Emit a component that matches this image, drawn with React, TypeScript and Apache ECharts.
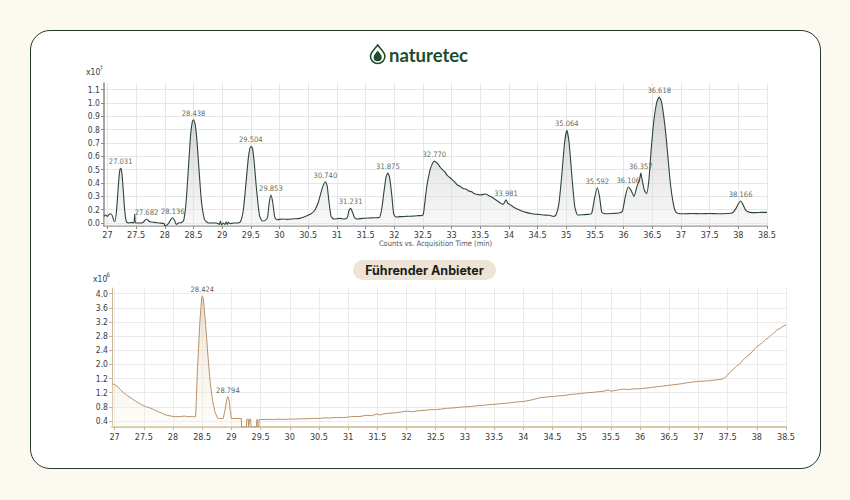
import React, { useEffect, useRef } from "react";
import * as echarts from "echarts";

// ---------- data ----------
const xTicks = [27, 27.5, 28, 28.5, 29, 29.5, 30, 30.5, 31, 31.5, 32, 32.5, 33, 33.5, 34, 34.5, 35, 35.5, 36, 36.5, 37, 37.5, 38, 38.5];

const topTickValuesY = [0.1, 0.2, 0.3, 0.4, 0.5, 0.6, 0.7, 0.8, 0.9, 1.0, 1.1];
const topTickLabelsY = ["0.0", "0.2", "0.3", "0.4", "0.5", "0.6", "0.7", "0.8", "0.9", "1.0", "1.1"];

const bottomTickValuesY = [0.4, 0.8, 1.2, 1.6, 2.0, 2.4, 2.8, 3.2, 3.6, 4.0];
const bottomTickLabelsY = ["0.4", "0.8", "1.2", "1.2", "2.0", "2.4", "2.8", "3.2", "3.6", "4.0"];

// naturetec chromatogram (x10^7 counts)
const topSignal: [number, number][] = [
  [26.94, 0.15], [26.97, 0.16], [27.0, 0.15], [27.03, 0.165], [27.06, 0.17], [27.09, 0.15], [27.11, 0.12], [27.13, 0.11],
  [27.16, 0.2], [27.19, 0.38], [27.21, 0.48], [27.23, 0.51], [27.25, 0.48], [27.27, 0.38], [27.3, 0.2], [27.33, 0.11],
  [27.37, 0.1], [27.42, 0.105], [27.46, 0.1], [27.475, 0.165], [27.49, 0.1], [27.55, 0.1], [27.62, 0.105], [27.68, 0.13],
  [27.74, 0.11], [27.82, 0.105], [27.92, 0.1], [27.99, 0.095], [28.0, 0.08], [28.04, 0.085], [28.07, 0.1], [28.11, 0.13],
  [28.14, 0.14], [28.17, 0.12], [28.2, 0.09], [28.24, 0.1], [28.29, 0.105],
  [28.33, 0.12], [28.37, 0.25], [28.41, 0.5], [28.45, 0.76], [28.48, 0.86], [28.5, 0.875], [28.53, 0.84], [28.56, 0.72],
  [28.6, 0.48], [28.64, 0.26], [28.69, 0.13], [28.74, 0.105],
  [28.82, 0.1], [28.9, 0.1], [28.95, 0.09], [28.97, 0.115], [28.99, 0.085], [29.02, 0.1], [29.05, 0.09], [29.07, 0.11],
  [29.09, 0.09], [29.11, 0.105], [29.14, 0.095], [29.2, 0.1], [29.27, 0.1],
  [29.32, 0.11], [29.37, 0.2], [29.42, 0.42], [29.46, 0.6], [29.5, 0.675], [29.53, 0.66], [29.56, 0.55], [29.6, 0.35],
  [29.65, 0.16], [29.7, 0.115], [29.75, 0.12],
  [29.79, 0.14], [29.82, 0.25], [29.85, 0.31], [29.88, 0.26], [29.92, 0.14], [29.96, 0.125],
  [30.05, 0.13], [30.15, 0.128], [30.25, 0.132], [30.35, 0.135], [30.45, 0.15], [30.55, 0.17], [30.62, 0.2], [30.68, 0.26],
  [30.73, 0.34], [30.77, 0.39], [30.8, 0.41], [30.83, 0.38], [30.86, 0.27], [30.9, 0.15], [30.95, 0.13],
  [31.05, 0.135], [31.13, 0.13], [31.18, 0.14], [31.21, 0.19], [31.24, 0.21], [31.27, 0.185], [31.31, 0.14], [31.36, 0.13],
  [31.45, 0.135], [31.55, 0.138], [31.65, 0.14], [31.74, 0.142],
  [31.78, 0.2], [31.82, 0.33], [31.86, 0.45], [31.89, 0.475], [31.92, 0.44], [31.96, 0.3], [31.99, 0.17], [32.03, 0.145],
  [32.1, 0.148], [32.2, 0.15], [32.3, 0.152], [32.4, 0.155], [32.5, 0.16],
  [32.53, 0.24], [32.57, 0.38], [32.62, 0.49], [32.66, 0.54], [32.7, 0.565], [32.73, 0.555], [32.76, 0.545], [32.8, 0.52],
  [32.84, 0.5], [32.88, 0.485], [32.92, 0.46], [32.96, 0.445], [33.0, 0.43], [33.05, 0.41], [33.1, 0.385], [33.15, 0.375],
  [33.2, 0.36], [33.25, 0.355], [33.3, 0.34], [33.35, 0.335], [33.4, 0.32], [33.45, 0.315], [33.5, 0.31], [33.55, 0.315],
  [33.6, 0.318], [33.65, 0.305], [33.7, 0.295], [33.75, 0.28], [33.8, 0.265], [33.85, 0.25], [33.9, 0.24], [33.95, 0.275],
  [33.98, 0.25], [34.03, 0.235], [34.1, 0.215], [34.2, 0.195], [34.3, 0.18], [34.4, 0.17], [34.5, 0.165], [34.6, 0.16],
  [34.7, 0.158], [34.78, 0.15],
  [34.82, 0.16], [34.87, 0.24], [34.92, 0.45], [34.97, 0.7], [35.01, 0.795], [35.05, 0.7], [35.1, 0.44], [35.15, 0.22], [35.2, 0.16],
  [35.28, 0.162], [35.36, 0.165], [35.44, 0.17], [35.49, 0.28], [35.54, 0.365], [35.58, 0.3], [35.62, 0.18], [35.68, 0.17],
  [35.8, 0.172], [35.92, 0.175], [35.98, 0.19],
  [36.03, 0.3], [36.08, 0.37], [36.13, 0.345], [36.18, 0.3], [36.23, 0.37], [36.28, 0.43], [36.3, 0.475], [36.32, 0.43],
  [36.36, 0.35], [36.4, 0.32], [36.44, 0.42], [36.48, 0.65], [36.53, 0.88], [36.58, 1.01], [36.62, 1.045], [36.66, 1.01],
  [36.7, 0.9], [36.74, 0.75], [36.78, 0.56], [36.82, 0.38], [36.86, 0.26], [36.9, 0.19], [36.95, 0.172],
  [37.05, 0.17], [37.2, 0.172], [37.35, 0.17], [37.5, 0.172], [37.65, 0.17], [37.8, 0.172], [37.9, 0.178],
  [37.96, 0.21], [38.0, 0.245], [38.04, 0.265], [38.08, 0.24], [38.13, 0.195], [38.2, 0.18], [38.3, 0.178], [38.4, 0.18], [38.5, 0.18],
];

const topPeakNames = ["27.031", "27.682", "28.136", "28.438", "29.504", "29.853", "30.740", "31.231", "31.875", "32.770", "33.981", "35.064", "35.592", "36.106", "36.357", "36.618", "38.166"];
const topPeakTimes = [27.23, 27.68, 28.14, 28.5, 29.5, 29.85, 30.8, 31.24, 31.89, 32.7, 33.95, 35.01, 35.54, 36.08, 36.3, 36.62, 38.04];
const topPeakValues = [0.51, 0.13, 0.14, 0.875, 0.675, 0.31, 0.41, 0.21, 0.475, 0.565, 0.275, 0.795, 0.365, 0.37, 0.475, 1.045, 0.265];

// Führender Anbieter chromatogram (x10^6 counts)
const bottomSignal: [number, number][] = [
  [26.955, 1.45], [27.0, 1.43], [27.05, 1.37], [27.1, 1.29], [27.15, 1.2], [27.2, 1.14], [27.25, 1.08], [27.3, 1.03],
  [27.35, 0.97], [27.4, 0.92], [27.45, 0.87], [27.5, 0.83], [27.55, 0.8], [27.6, 0.77], [27.65, 0.74], [27.7, 0.7],
  [27.75, 0.66], [27.8, 0.63], [27.85, 0.59], [27.9, 0.56], [27.95, 0.545], [28.0, 0.53], [28.05, 0.52], [28.1, 0.525],
  [28.15, 0.53], [28.2, 0.54], [28.25, 0.52], [28.3, 0.53], [28.35, 0.52], [28.38, 0.52],
  [28.39, 0.6], [28.42, 1.9], [28.46, 3.2], [28.49, 3.85], [28.5, 3.94], [28.52, 3.85], [28.56, 3.1], [28.6, 2.2],
  [28.64, 1.45], [28.68, 0.95], [28.72, 0.65], [28.76, 0.49],
  [28.8, 0.47], [28.86, 0.47], [28.89, 0.7], [28.92, 1.0], [28.94, 1.09], [28.96, 1.0], [28.98, 0.7], [29.0, 0.47],
  [29.1, 0.47], [29.17, 0.47],
  [29.175, 0.23], [29.26, 0.23], [29.265, 0.45], [29.29, 0.45], [29.295, 0.23], [29.305, 0.23], [29.31, 0.45], [29.33, 0.45],
  [29.335, 0.23], [29.43, 0.23], [29.435, 0.44], [29.45, 0.44], [29.455, 0.23], [29.47, 0.23], [29.475, 0.44],
  [29.6, 0.445], [29.7, 0.44], [29.8, 0.45], [29.9, 0.445], [30.0, 0.455], [30.1, 0.45], [30.2, 0.465], [30.3, 0.46],
  [30.4, 0.475], [30.5, 0.47], [30.6, 0.49], [30.7, 0.485], [30.8, 0.5], [30.9, 0.495], [31.0, 0.51], [31.1, 0.53],
  [31.2, 0.525], [31.3, 0.56], [31.4, 0.55], [31.5, 0.6], [31.55, 0.57], [31.6, 0.6], [31.7, 0.62], [31.8, 0.63],
  [31.9, 0.65], [32.0, 0.68], [32.1, 0.66], [32.2, 0.69], [32.3, 0.7], [32.4, 0.72], [32.5, 0.72], [32.6, 0.74],
  [32.7, 0.76], [32.8, 0.77], [32.9, 0.79], [33.0, 0.8], [33.1, 0.81], [33.2, 0.83], [33.3, 0.84], [33.4, 0.86],
  [33.5, 0.87], [33.6, 0.89], [33.7, 0.9], [33.8, 0.92], [33.9, 0.94], [34.0, 0.95], [34.1, 0.98], [34.2, 1.02],
  [34.3, 1.06], [34.4, 1.08], [34.5, 1.09], [34.6, 1.11], [34.7, 1.12], [34.8, 1.15], [34.9, 1.16], [35.0, 1.18],
  [35.1, 1.2], [35.2, 1.21], [35.3, 1.23], [35.4, 1.25], [35.45, 1.28], [35.5, 1.24], [35.6, 1.27], [35.7, 1.3],
  [35.8, 1.29], [35.9, 1.31], [36.0, 1.31], [36.1, 1.33], [36.2, 1.35], [36.3, 1.37], [36.4, 1.39], [36.5, 1.41],
  [36.6, 1.43], [36.7, 1.45], [36.8, 1.48], [36.9, 1.5], [37.0, 1.52], [37.1, 1.53], [37.2, 1.54], [37.3, 1.56],
  [37.4, 1.58], [37.45, 1.62], [37.5, 1.7], [37.55, 1.8], [37.6, 1.86], [37.65, 1.95], [37.7, 2.0], [37.75, 2.1],
  [37.8, 2.18], [37.85, 2.25], [37.9, 2.32], [37.95, 2.42], [38.0, 2.5], [38.05, 2.56], [38.1, 2.62], [38.15, 2.7],
  [38.2, 2.75], [38.25, 2.84], [38.3, 2.9], [38.35, 2.98], [38.4, 3.02], [38.45, 3.08], [38.5, 3.12],
];

const bottomPeakNames = ["28.424", "28.794"];
const bottomPeakTimes = [28.5, 28.94];
const bottomPeakValues = [3.94, 1.09];

const FILLED_UNTIL = 29.17;

// ---------- chart ----------
const FONT = "'Liberation Sans Narrow', 'DejaVu Sans Condensed', Roboto, sans-serif";

const labelFor = (values: number[], labels: string[]) => (v: number) => {
  const i = values.findIndex((t) => Math.abs(t - v) < 1e-6);
  return i >= 0 ? labels[i] : "";
};

export default function App() {
  const ref = useRef<HTMLDivElement>(null);

  useEffect(() => {
    if (!ref.current) return;
    echarts.graphic.registerShape(
      "dropOuter",
      echarts.graphic.extendPath("M8 0 C11 4 16 8 16 12.5 A8 8 0 0 1 0 12.5 C0 8 5 4 8 0 Z", {})
    );
    echarts.graphic.registerShape(
      "dropInner",
      echarts.graphic.extendPath("M8 6.5 C10 9 12.5 11 12.5 13.5 A4.5 4.5 0 0 1 3.5 13.5 C3.5 11 6 9 8 6.5 Z", {})
    );
    const chart = echarts.init(ref.current, undefined, { renderer: "svg" });

    const axisLabelStyle = { color: "#3a3a3a", fontSize: 8.5, fontFamily: FONT };

    const option: any = {
      animation: false,
      textStyle: { fontFamily: FONT },
      grid: [
        { left: 104, top: 83, width: 663, height: 143 },
        { left: 112, top: 288, width: 674, height: 139 },
      ],
      xAxis: [
        {
          gridIndex: 0,
          type: "value",
          min: 26.94,
          max: 38.5,
          name: "Counts vs. Acquisition Time (min)",
          nameLocation: "middle",
          nameGap: 13,
          nameTextStyle: { color: "#555", fontSize: 7.5, fontFamily: FONT },
          axisLine: { show: true, lineStyle: { color: "#9a9a9a", width: 1.5 } },
          axisTick: { show: true, length: 3, customValues: xTicks, lineStyle: { color: "#888" } },
          axisLabel: { ...axisLabelStyle, fontSize: 9, margin: 4, customValues: xTicks, formatter: (v: number) => String(v) },
          splitLine: { show: true, lineStyle: { color: "#e6e6e6", width: 1 } },
        },
        {
          gridIndex: 1,
          type: "value",
          min: 26.955,
          max: 38.5,
          axisLine: { show: true, lineStyle: { color: "#d8c8a6", width: 2 } },
          axisTick: { show: true, length: 3, customValues: xTicks, lineStyle: { color: "#c9b48e" } },
          axisLabel: { ...axisLabelStyle, fontSize: 9, margin: 5, customValues: xTicks, formatter: (v: number) => String(v) },
          splitLine: { show: true, lineStyle: { color: "#ebebeb", width: 1 } },
        },
      ],
      yAxis: [
        {
          gridIndex: 0,
          type: "value",
          min: 0.078,
          max: 1.15,
          axisLine: { show: true, lineStyle: { color: "#8a8a8a", width: 1.5 } },
          axisTick: { show: true, length: 3, customValues: topTickValuesY, lineStyle: { color: "#888" } },
          axisLabel: { ...axisLabelStyle, margin: 4, customValues: topTickValuesY, formatter: labelFor(topTickValuesY, topTickLabelsY) },
          splitLine: { show: true, lineStyle: { color: "#e6e6e6", width: 1 } },
        },
        {
          gridIndex: 1,
          type: "value",
          min: 0.23,
          max: 4.16,
          axisLine: { show: true, lineStyle: { color: "#cdb894", width: 1 } },
          axisTick: { show: true, length: 3, customValues: bottomTickValuesY, lineStyle: { color: "#c9b48e" } },
          axisLabel: { ...axisLabelStyle, margin: 4, customValues: bottomTickValuesY, formatter: labelFor(bottomTickValuesY, bottomTickLabelsY) },
          splitLine: { show: true, lineStyle: { color: "#ebebeb", width: 1 } },
        },
      ],
      series: [
        {
          type: "line",
          xAxisIndex: 0,
          yAxisIndex: 0,
          data: topSignal,
          showSymbol: false,
          smooth: 0.2,
          lineStyle: { color: "#2c4636", width: 1.1 },
          areaStyle: {
            color: new echarts.graphic.LinearGradient(0, 0, 0, 1, [
              { offset: 0, color: "rgba(170,170,170,0.8)" },
              { offset: 1, color: "rgba(236,236,236,0.55)" },
            ]),
          },
          silent: true,
          z: 3,
        },
        {
          type: "scatter",
          xAxisIndex: 0,
          yAxisIndex: 0,
          symbolSize: 1,
          itemStyle: { color: "rgba(0,0,0,0)" },
          data: topPeakNames.map((n, i) => ({ name: n, value: [topPeakTimes[i], topPeakValues[i]] })),
          label: { show: true, position: "top", distance: 2, formatter: "{b}", fontSize: 7.5, color: "#2f3f35", fontFamily: FONT },
          silent: true,
          z: 4,
        },
        {
          type: "line",
          xAxisIndex: 1,
          yAxisIndex: 1,
          data: bottomSignal.filter((p) => p[0] <= FILLED_UNTIL),
          showSymbol: false,
          lineStyle: { width: 0, opacity: 0 },
          areaStyle: {
            color: new echarts.graphic.LinearGradient(0, 0, 0, 1, [
              { offset: 0, color: "rgba(222,202,172,0.75)" },
              { offset: 1, color: "rgba(250,245,236,0.4)" },
            ]),
          },
          silent: true,
          z: 2,
        },
        {
          type: "line",
          xAxisIndex: 1,
          yAxisIndex: 1,
          data: bottomSignal,
          showSymbol: false,
          lineStyle: { color: "#b8916a", width: 1 },
          silent: true,
          z: 3,
        },
        {
          type: "scatter",
          xAxisIndex: 1,
          yAxisIndex: 1,
          symbolSize: 1,
          itemStyle: { color: "rgba(0,0,0,0)" },
          data: bottomPeakNames.map((n, i) => ({ name: n, value: [bottomPeakTimes[i], bottomPeakValues[i]] })),
          label: { show: true, position: "top", distance: 2, formatter: "{b}", fontSize: 7.5, color: "#333333", fontFamily: FONT },
          silent: true,
          z: 4,
        },
      ],
      graphic: [
        // logo
        {
          type: "dropOuter",
          x: 370.5,
          y: 45,
          scaleX: 0.9,
          scaleY: 0.9,
          style: { fill: "none", stroke: "#1d4d2c", lineWidth: 1.6, strokeNoScale: true },
        },
        {
          type: "dropInner",
          x: 370.5,
          y: 45,
          scaleX: 0.9,
          scaleY: 0.9,
          style: { fill: "#1d4d2c" },
        },
        {
          type: "text",
          x: 389,
          y: 55,
          style: {
            text: "naturetec",
            fill: "#1d4d2c",
            fontSize: 18.5,
            fontWeight: "bold",
            fontFamily: "Lato, 'Noto Sans', sans-serif",
            align: "left",
            verticalAlign: "middle",
          },
        },
        // exponent labels
        { type: "text", x: 86, y: 72, style: { text: "x10", fill: "#3a3a3a", fontSize: 8.5, fontFamily: FONT, verticalAlign: "middle" } },
        { type: "text", x: 99.5, y: 67, style: { text: "7", fill: "#3a3a3a", fontSize: 6, fontFamily: FONT, verticalAlign: "middle" } },
        { type: "text", x: 93, y: 279, style: { text: "x10", fill: "#3a3a3a", fontSize: 8.5, fontFamily: FONT, verticalAlign: "middle" } },
        { type: "text", x: 106.5, y: 274, style: { text: "6", fill: "#3a3a3a", fontSize: 6, fontFamily: FONT, verticalAlign: "middle" } },
        // pill
        {
          type: "rect",
          shape: { x: 353, y: 260, width: 143, height: 20, r: 10 },
          style: { fill: "#eee4d5" },
        },
        {
          type: "text",
          x: 424.5,
          y: 270.5,
          style: {
            text: "Führender Anbieter",
            fill: "#1c1c1c",
            fontSize: 12.5,
            fontWeight: "bold",
            fontFamily: "Inter, Roboto, sans-serif",
            align: "center",
            verticalAlign: "middle",
          },
        },
      ],
    };

    chart.setOption(option);
    return () => chart.dispose();
  }, []);

  return (
    <div style={{ position: "fixed", left: 0, top: 0, width: 850, height: 500, background: "#fbf9f0" }}>
      <div
        style={{
          position: "absolute",
          left: 30,
          top: 30,
          width: 789,
          height: 437,
          background: "#ffffff",
          border: "1.3px solid #1f3d2b",
          borderRadius: 20,
        }}
      />
      <div ref={ref} style={{ position: "absolute", left: 0, top: 0, width: 850, height: 500 }} />
    </div>
  );
}
